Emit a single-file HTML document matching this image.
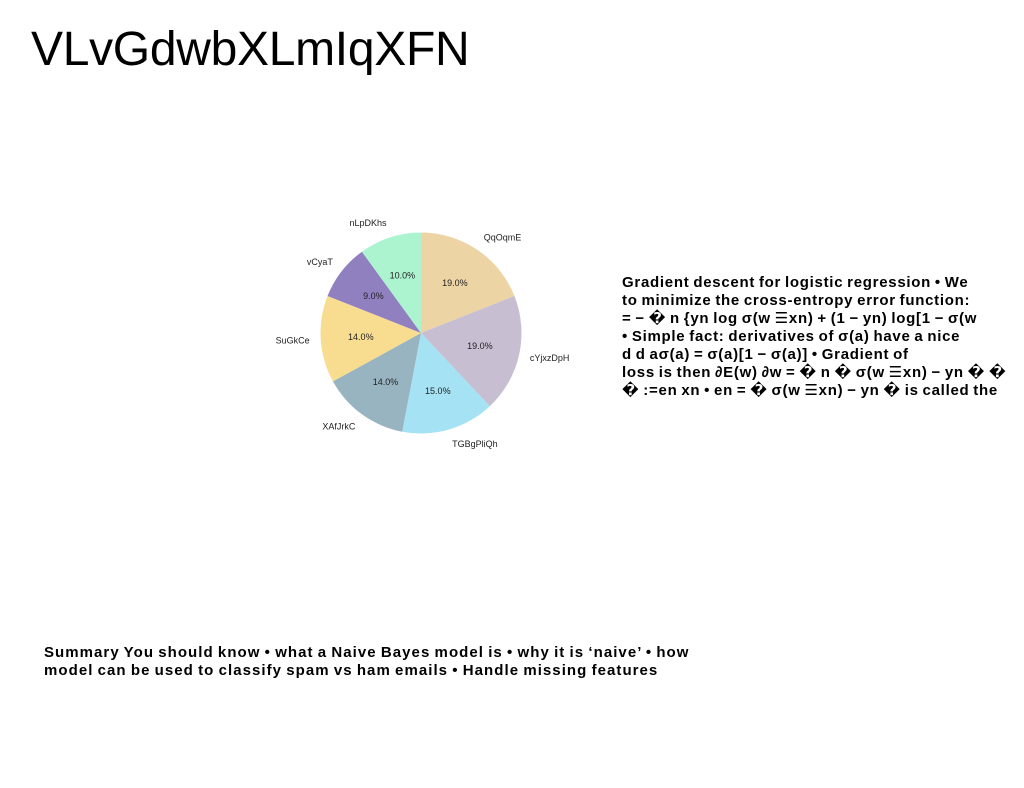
<!DOCTYPE html>
<html><head><meta charset="utf-8"><style>
body{margin:0;width:1024px;height:788px;background:#fff;position:relative;overflow:hidden;font-family:"Liberation Sans","DejaVu Sans",sans-serif}
#title{position:absolute;left:31px;top:22px;font-size:48px;color:#000;letter-spacing:-0.3px}
.txt{position:absolute;font-weight:bold;font-size:15px;line-height:18px;color:#000;white-space:nowrap;letter-spacing:0.72px;word-spacing:-1px}
</style></head><body>
<div id="title">VLvGdwbXLmIqXFN</div>
<svg id="pie" width="1024" height="788" style="position:absolute;left:0;top:0"></svg>
<div class="txt" style="left:622px;top:274px">Gradient descent for logistic regression • We<br>to minimize the cross-entropy error function:<br>= − � n {yn log σ(w ☰xn) + (1 − yn) log[1 − σ(w<br>• Simple fact: derivatives of σ(a) have a nice<br>d d aσ(a) = σ(a)[1 − σ(a)] • Gradient of<br>loss is then ∂E(w) ∂w = � n � σ(w ☰xn) − yn � �<br>� :=en xn • en = � σ(w ☰xn) − yn � is called the</div>
<div class="txt" style="left:44px;top:644px;letter-spacing:1.05px">Summary You should know • what a Naive Bayes model is • why it is ‘naive’ • how<br>model can be used to classify spam vs ham emails • Handle missing features</div>
<script>
const labels=["QqOqmE","cYjxzDpH","TGBgPliQh","XAfJrkC","SuGkCe","vCyaT","nLpDKhs"];
const values=[19,19,15,14,14,9,10];
const colors=["#ecd4a4","#c8bed2","#a4e2f4","#98b4c0","#f8dc90","#9080c0","#acf4d0"];
const svg=document.getElementById('pie');
const NS="http://www.w3.org/2000/svg";
const cx=421,cy=333,r=100.5;
const total=values.reduce((a,b)=>a+b,0);
let ang=90;
function pt(a,rr){const t=a*Math.PI/180;return [cx+rr*Math.cos(t),cy-rr*Math.sin(t)];}
values.forEach((v,i)=>{
  const sweep=v/total*360;const a0=ang,a1=ang-sweep;
  const p0=pt(a0,r),p1=pt(a1,r);
  const path=document.createElementNS(NS,'path');
  path.setAttribute('d',`M${cx},${cy}L${p0[0]},${p0[1]}A${r},${r} 0 ${sweep>180?1:0} 1 ${p1[0]},${p1[1]}Z`);
  path.setAttribute('fill',colors[i]);
  
  
  svg.appendChild(path);
  const mid=(a0+a1)/2;
  const pp=pt(mid,r*0.6);
  const t=document.createElementNS(NS,'text');
  t.setAttribute('x',pp[0]);t.setAttribute('y',pp[1]+3);
  t.setAttribute('text-anchor','middle');t.setAttribute('font-size','9');
  t.setAttribute('font-family','Liberation Sans, sans-serif');t.setAttribute('fill','#222');
  t.textContent=(v/total*100).toFixed(1)+'%';
  
  
  svg.appendChild(t);
  const lp=pt(mid,r*1.11);
  const l=document.createElementNS(NS,'text');
  const c=Math.cos(mid*Math.PI/180);
  const s=Math.sin(mid*Math.PI/180);
  l.setAttribute('x',lp[0]);l.setAttribute('y',lp[1]+3-s*4);
  l.setAttribute('text-anchor',c>0.05?'start':(c<-0.05?'end':'middle'));
  l.setAttribute('font-size','9');l.setAttribute('font-family','Liberation Sans, sans-serif');l.setAttribute('fill','#222');
  l.textContent=labels[i];
  
  
  svg.appendChild(l);
  ang=a1;
});
</script>
</body></html>
